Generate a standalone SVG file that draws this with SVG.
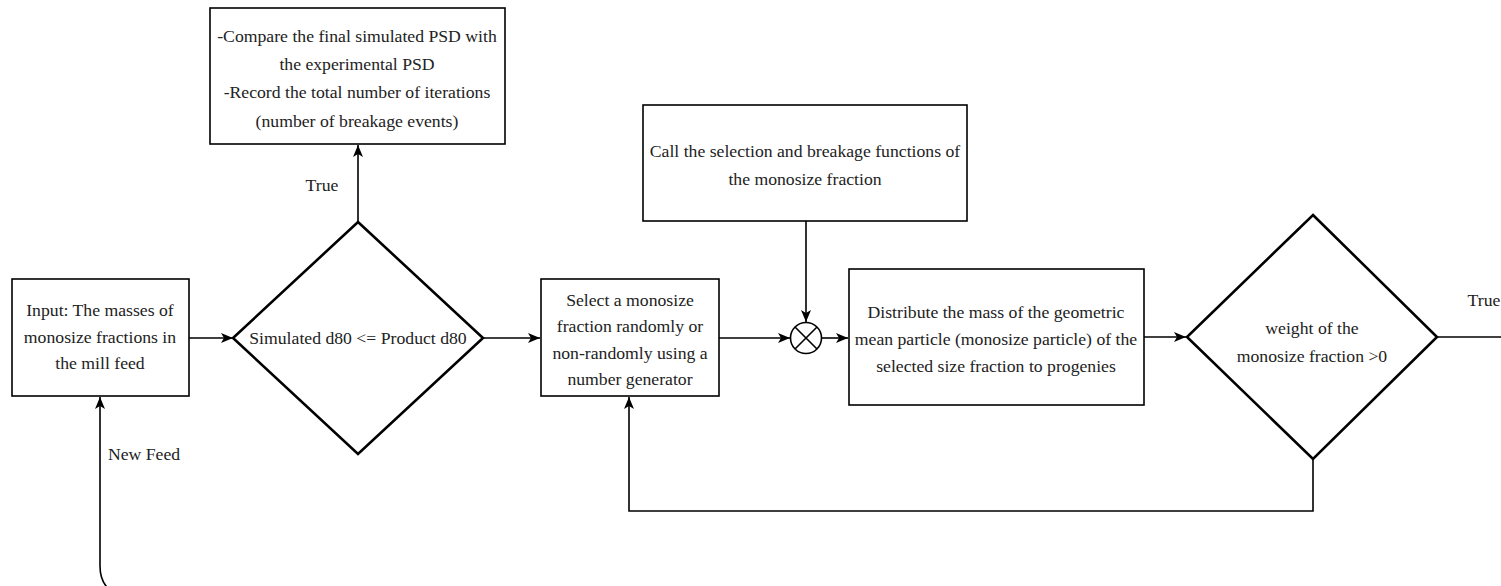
<svg xmlns="http://www.w3.org/2000/svg" width="1501" height="586" viewBox="0 0 1501 586">
<style>
.box{fill:#fff;stroke:#000;stroke-width:1.6}
.dia{fill:#fff;stroke:#000;stroke-width:2.6;stroke-linejoin:miter}
.ln{fill:none;stroke:#000;stroke-width:1.6}
text{font-family:"Liberation Serif","Times New Roman",serif;font-size:17.7px;fill:#222;text-anchor:middle}
</style>
<defs>
<marker id="ah" viewBox="0 0 12 10" refX="12" refY="5" markerWidth="12" markerHeight="10" markerUnits="userSpaceOnUse" orient="auto">
<path d="M0,0 L12,5 L0,10 L3,5 Z" fill="#000"/>
</marker>
</defs>
<g id="connectors">
<path class="ln" d="M110,590 Q100,582 100,566 L100,397" marker-end="url(#ah)"/>
<path class="ln" d="M189,338 L233,338" marker-end="url(#ah)"/>
<path class="ln" d="M358,222 L358,145" marker-end="url(#ah)"/>
<path class="ln" d="M483,338 L540,338" marker-end="url(#ah)"/>
<path class="ln" d="M719,338 L790,338" marker-end="url(#ah)"/>
<path class="ln" d="M806,221 L806,322" marker-end="url(#ah)"/>
<path class="ln" d="M822,338 L848,338" marker-end="url(#ah)"/>
<path class="ln" d="M1144,337 L1186,337" marker-end="url(#ah)"/>
<path class="ln" d="M1437,337 L1501,337"/>
<path class="ln" d="M1313,459 L1313,511 L629,511 L629,397" marker-end="url(#ah)"/>
<text x="144" y="460">New Feed</text>
<text x="322" y="191">True</text>
<text x="1484" y="306">True</text>
</g>
<g id="input">
<rect class="box" x="12" y="279" width="177" height="117"/>
<text x="100" y="316">Input: The masses of</text>
<text x="100" y="343">monosize fractions in</text>
<text x="100" y="369">the mill feed</text>
</g>
<g id="decision1">
<polygon class="dia" points="358,222 483,338 358,454 233,338"/>
<text x="358" y="344">Simulated d80 &lt;= Product d80</text>
</g>
<g id="compare">
<rect class="box" x="210" y="8" width="295" height="136"/>
<text x="357" y="42">-Compare the final simulated PSD with</text>
<text x="357" y="70">the experimental PSD</text>
<text x="357" y="98">-Record the total number of iterations</text>
<text x="357" y="127">(number of breakage events)</text>
</g>
<g id="select">
<rect class="box" x="541" y="279" width="178" height="117"/>
<text x="630" y="306">Select a monosize</text>
<text x="630" y="332">fraction randomly or</text>
<text x="630" y="359">non-randomly using a</text>
<text x="630" y="385">number generator</text>
</g>
<g id="call">
<rect class="box" x="643" y="105" width="324" height="116"/>
<text x="805" y="157">Call the selection and breakage functions of</text>
<text x="805" y="185">the monosize fraction</text>
</g>
<g id="junction">
<circle cx="806" cy="338" r="15.5" fill="#fff" stroke="#000" stroke-width="1.6"/>
<path class="ln" d="M795,327 L817,349 M817,327 L795,349"/>
</g>
<g id="distribute">
<rect class="box" x="849" y="269" width="295" height="136"/>
<text x="996" y="318">Distribute the mass of the geometric</text>
<text x="996" y="345">mean particle (monosize particle) of the</text>
<text x="996" y="372">selected size fraction to progenies</text>
</g>
<g id="decision2">
<polygon class="dia" points="1313,215 1437,337 1313,459 1187,337"/>
<text x="1312" y="334">weight of the</text>
<text x="1312" y="362">monosize fraction &gt;0</text>
</g>
</svg>
